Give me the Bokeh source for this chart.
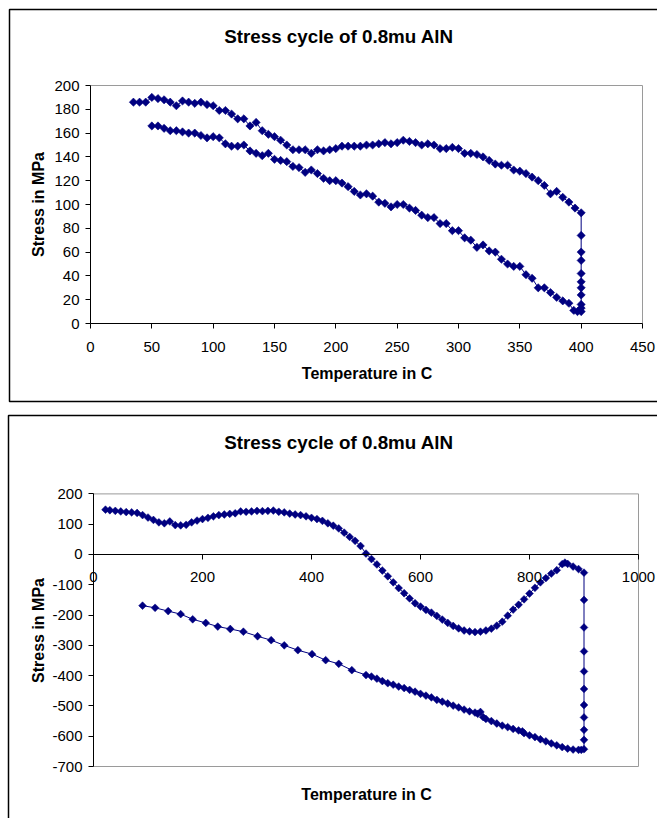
import numpy as np
from bokeh.plotting import figure
from bokeh.layouts import column
from bokeh.models import FixedTicker, Range1d
from bokeh.core.properties import value
from bokeh.embed import file_html
from bokeh.resources import INLINE

NAVY = "#000080"
FONT = "Liberation Sans"
GRAY = "#9a9a9a"

# ---------------- chart 1 data (0..400 C cycle) ----------------
t1_heat = [35, 40, 45, 50, 55, 60, 65, 70, 75, 80, 85, 90, 95, 100, 105, 110, 115, 120,
           125, 130, 135, 140, 145, 150, 155, 160, 165, 170, 175, 180, 185, 190, 195, 200,
           205, 210, 215, 220, 225, 230, 235, 240, 245, 250, 255, 260, 265, 270, 275, 280,
           285, 290, 295, 300, 305, 310, 315, 320, 325, 330, 335, 340, 345, 350, 355, 360,
           365, 370, 375, 380, 385, 390, 395, 400]
s1_heat = [186, 186, 186, 190, 189, 188, 186, 183, 187, 186, 185, 186, 184, 183, 179, 179, 176, 172,
           172, 166, 169, 162, 159, 157, 154, 150, 146, 146, 146, 143, 146, 145, 146, 147,
           149, 149, 149, 149, 150, 150, 151, 152, 151, 152, 154, 153, 152, 150, 151, 150,
           147, 147, 148, 147, 143, 143, 142, 140, 137, 134, 133, 133, 129, 128, 126, 123,
           120, 116, 109, 111, 106, 102, 97, 93]
t1_hold = [400, 400, 400, 400, 400, 400, 400, 400, 400, 400]
s1_hold = [74, 60, 53, 42, 35, 30, 24, 16, 13, 10]
t1_cool = [397, 394, 390, 385, 380, 375, 370, 365, 360, 355, 350, 345, 340, 335, 330, 325,
           320, 315, 310, 305, 300, 295, 290, 285, 280, 275, 270, 265, 260, 255, 250, 245,
           240, 235, 230, 225, 220, 215, 210, 205, 200, 195, 190, 185, 180, 175, 170, 165,
           160, 155, 150, 145, 140, 135, 130, 125, 120, 115, 110, 105, 100, 95, 90, 85,
           80, 75, 70, 65, 60, 55, 50]
s1_cool = [10, 11, 17, 19, 22, 26, 30, 30, 38, 41, 48, 48, 50, 54, 60, 61,
           66, 64, 70, 72, 78, 78, 84, 84, 89, 89, 91, 95, 97, 100, 100, 98,
           101, 102, 107, 109, 108, 111, 115, 118, 120, 120, 122, 126, 129, 127, 131, 132,
           136, 137, 138, 143, 141, 143, 145, 150, 149, 149, 151, 156, 157, 156, 158, 160,
           160, 161, 162, 162, 164, 166, 166]
x1_ticks = [0, 50, 100, 150, 200, 250, 300, 350, 400, 450]
y1_ticks = [0, 20, 40, 60, 80, 100, 120, 140, 160, 180, 200]

# ---------------- chart 2 data (0..900 C cycle) ----------------
t2_heat = [22, 30, 40, 50, 60, 70, 80, 90, 100, 110, 120, 130, 140, 150, 160, 170, 180, 190,
           200, 210, 220, 230, 240, 250, 260, 270, 280, 290, 300, 310, 320, 330, 340, 350,
           360, 370, 380, 390, 400, 410, 420, 430, 440, 450, 460, 470, 480, 490, 500, 510,
           520, 530, 540, 550, 560, 570, 580, 590, 600, 610, 620, 630, 640, 650, 660, 670,
           680, 690, 700, 710, 720, 730, 740, 750, 760, 770, 780, 790, 800, 810, 820, 830,
           840, 850, 860, 865, 870, 880, 890, 900]
s2_heat = [148, 146, 144, 142, 140, 139, 137, 130, 122, 114, 106, 103, 109, 97, 96, 98, 106, 112,
           117, 121, 126, 130, 132, 134, 136, 142, 141, 142, 144, 143, 144, 145, 141, 139,
           135, 132, 130, 126, 121, 117, 111, 103, 95, 86, 72, 58, 45, 28, 3, -15,
           -33, -53, -72, -92, -111, -128, -145, -161, -172, -183, -192, -203, -215, -226, -236, -244,
           -251, -254, -256, -255, -251, -245, -235, -222, -202, -182, -166, -148, -129, -110, -92, -78,
           -63, -52, -32, -27, -31, -40, -48, -60]
t2_hold = [900, 900, 900, 900, 900, 900, 900, 900, 900, 900]
s2_hold = [-150, -241, -320, -386, -444, -497, -538, -579, -612, -643]
t2_cool = [895, 890, 880, 870, 860, 850, 840, 830, 820, 810, 800, 790, 787, 780, 770, 760,
           750, 740, 730, 720, 715, 710, 705, 700, 690, 680, 670, 660, 650, 640, 630, 620,
           610, 600, 590, 580, 570, 560, 550, 540, 530, 520, 510, 500, 474, 450, 426, 401,
           375, 350, 326, 301, 275, 251, 228, 206, 182, 160, 137, 113, 90]
s2_cool = [-645, -645, -644, -641, -636, -630, -624, -617, -610, -603, -597, -590, -584, -581, -576, -570,
           -565, -558, -550, -543, -537, -520, -526, -522, -518, -512, -505, -499, -492, -486, -480, -472,
           -466, -460, -453, -447, -441, -436, -430, -425, -418, -410, -403, -398, -382, -361, -349, -329,
           -316, -300, -283, -270, -255, -246, -238, -226, -214, -197, -187, -176, -169]
x2_ticks = [0, 200, 400, 600, 800, 1000]
y2_ticks = [-700, -600, -500, -400, -300, -200, -100, 0, 100, 200]

TITLE = "Stress cycle of 0.8mu AlN"
XLABEL = "Temperature in C"
YLABEL = "Stress in MPa"

W = 657


class Mapper:
    """pixel <-> data mapping for a figure whose frame fills the whole canvas"""
    def __init__(self, height, px0, px1, x0, x1, py_top, py_bot, y_top, y_bot):
        self.kx = (px1 - px0) / (x1 - x0)
        self.ky = (py_bot - py_top) / (y_top - y_bot)
        self.xs = x0 - px0 / self.kx
        self.xe = self.xs + W / self.kx
        self.ye = y_top + py_top / self.ky
        self.ys = self.ye - height / self.ky

    def x(self, px):
        return self.xs + px / self.kx

    def y(self, py):
        return self.ye - py / self.ky


def style_axis(ax, ticks, loc, bounds, standoff):
    ax.fixed_location = loc
    ax.bounds = bounds
    ax.ticker = FixedTicker(ticks=ticks)
    ax.major_label_overrides = {t: str(t) for t in ticks}
    ax.axis_line_color = "black"
    ax.axis_line_width = 1
    ax.major_tick_line_color = "black"
    ax.major_tick_out = 5
    ax.major_tick_in = 0
    ax.minor_tick_line_color = None
    ax.major_label_text_font = FONT
    ax.major_label_text_font_size = "15px"
    ax.major_label_text_color = "black"
    ax.major_label_standoff = standoff


def make_chart(height, m, xt, yt, pos, box_sides, frame):
    p = figure(width=W, height=height, x_range=Range1d(m.xs, m.xe), y_range=Range1d(m.ys, m.ye),
               output_backend="svg", toolbar_location=None, title=None,
               min_border=0, min_border_left=0, min_border_right=0,
               min_border_top=0, min_border_bottom=0)
    p.grid.visible = False
    p.outline_line_color = None
    p.background_fill_color = "white"
    p.border_fill_color = "white"
    style_axis(p.xaxis[0], xt, 0, (xt[0], xt[-1]), 13)
    style_axis(p.yaxis[0], yt, 0, (yt[0], yt[-1]), 6)

    # gray plot-area border
    x0, x1, y0, y1 = xt[0], xt[-1], yt[0], yt[-1]
    sides = {"top": ([x0, x1], [y1, y1]), "right": ([x1, x1], [y0, y1]),
             "bottom": ([x0, x1], [y0, y0])}
    for s in box_sides:
        xs, ys = sides[s]
        p.line(xs, ys, line_color=GRAY, line_width=1)

    # black chart-area frame
    fl, ft, fb = frame
    fxs = [m.x(W + 5), m.x(fl), m.x(fl)]
    fys = [m.y(ft), m.y(ft), m.y(fb)]
    if fb < height:
        fxs.append(m.x(W + 5))
        fys.append(m.y(fb))
    p.line(fxs, fys, line_color="black", line_width=1.5)

    (tx, ty), (lx, ly), (yx, yy) = pos
    p.text(x=[m.x(tx)], y=[m.y(ty)], text=[TITLE], text_font=value(FONT),
           text_font_size=value("18.8px"), text_font_style="bold", text_color="black",
           text_align="center", text_baseline="alphabetic")
    p.text(x=[m.x(lx)], y=[m.y(ly)], text=[XLABEL], text_font=value(FONT),
           text_font_size=value("16px"), text_font_style="bold", text_color="black",
           text_align="center", text_baseline="alphabetic")
    p.text(x=[m.x(yx)], y=[m.y(yy)], text=[YLABEL], text_font=value(FONT),
           text_font_size=value("16px"), text_font_style="bold", text_color="black",
           text_align="center", text_baseline="alphabetic", angle=np.pi / 2)
    return p


# ---- chart 1 ----
H1 = 412
m1 = Mapper(H1, 90, 642, 0, 450, 85, 323, 200, 0)
p1 = make_chart(H1, m1, x1_ticks, y1_ticks,
                ((338.5, 36), (366.5, 373), (38, 204)),
                ("top", "right"), (9, 9, 401))
x1 = t1_heat + t1_hold + t1_cool
y1 = s1_heat + s1_hold + s1_cool
p1.line(x1, y1, line_color=NAVY, line_width=1)
p1.scatter(x1, y1, marker="square", angle=np.pi / 4, size=5.8,
           fill_color=NAVY, line_color=NAVY, line_width=0.6)

# ---- chart 2 ----
H2 = 406
m2 = Mapper(H2, 93, 638, 0, 1000, 81.4, 354, 200, -700)
p2 = make_chart(H2, m2, x2_ticks, y2_ticks,
                ((338.5, 29.5), (366, 381.5), (38, 218)),
                ("top", "right", "bottom"), (8, 3, 500))
x2 = t2_heat + t2_hold + t2_cool
y2 = s2_heat + s2_hold + s2_cool
p2.line(x2, y2, line_color=NAVY, line_width=1)
p2.scatter(x2, y2, marker="square", angle=np.pi / 4, size=5.5,
           fill_color=NAVY, line_color=NAVY, line_width=0.5)

layout = column(p1, p2, spacing=0)
open("out.html", "w").write(file_html(layout, INLINE))
